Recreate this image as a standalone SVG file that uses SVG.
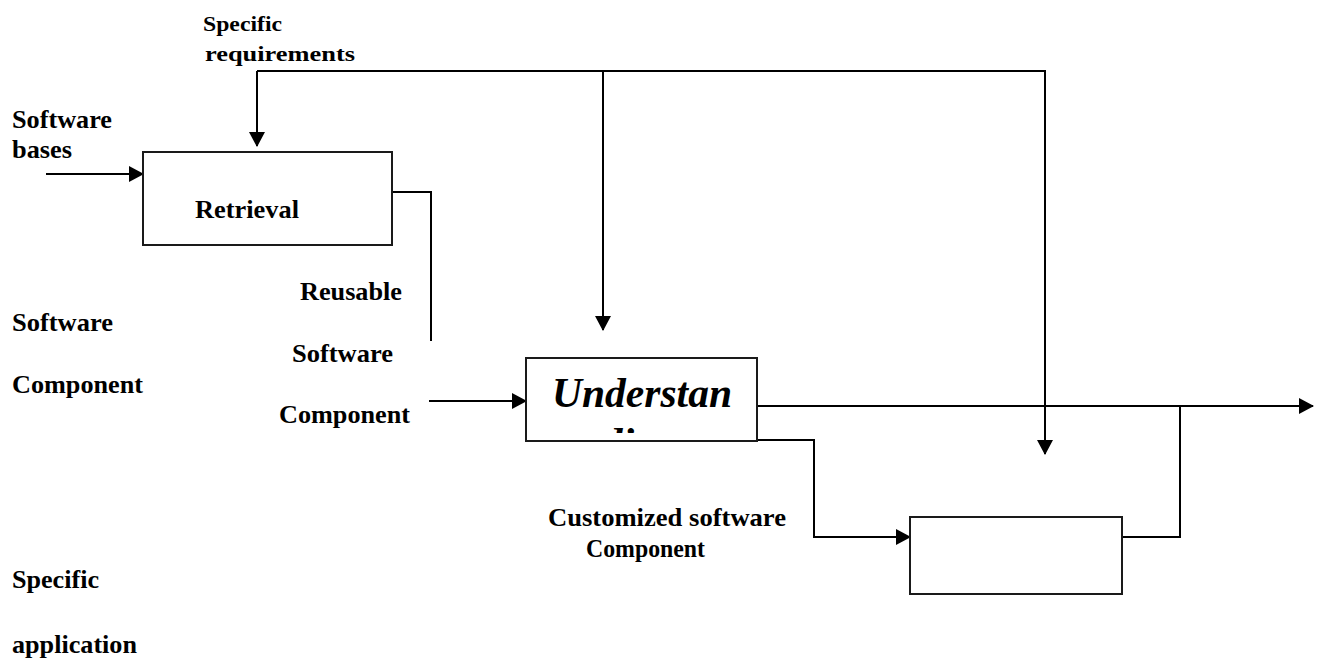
<svg xmlns="http://www.w3.org/2000/svg" width="1321" height="662" viewBox="0 0 1321 662">
  <style>
    .lbl { font-family: "Liberation Serif", "Times New Roman", serif; font-weight: bold; font-size: 25px; fill: #000; }
    .sm { font-size: 21px; }
    .box { fill: #fff; stroke: #1a1a1a; stroke-width: 2; }
    .wire { fill: none; stroke: #000; stroke-width: 2; }
    .arr { marker-end: url(#head); }
    .big { font-family: "Liberation Serif", "Times New Roman", serif; font-weight: bold; font-style: italic; font-size: 42px; fill: #000; }
  </style>
  <defs>
    <marker id="head" markerUnits="userSpaceOnUse" markerWidth="16" markerHeight="16" refX="14" refY="8" orient="auto">
      <path d="M0,0 L15,8 L0,16 z" fill="#000"/>
    </marker>
    <clipPath id="ucl">
      <rect x="527" y="359" width="229" height="74"/>
    </clipPath>
  </defs>
  <rect width="1321" height="662" fill="#fff"/>

  <!-- connectors -->
  <g id="connectors">
    <path class="wire arr" d="M46,174 H143"/>
    <path class="wire arr" d="M257,71 H1045 V454"/>
    <path class="wire arr" d="M257,71 V146"/>
    <path class="wire arr" d="M603,71 V330"/>
    <path class="wire" d="M392,192 H431 V341"/>
    <path class="wire arr" d="M429,401 H526"/>
    <path class="wire arr" d="M757,406 H1313"/>
    <path class="wire arr" d="M757,440 H814 V537 H910"/>
    <path class="wire" d="M1122,537 H1180 V406"/>
  </g>

  <!-- retrieval step -->
  <g id="retrieval">
    <rect class="box" x="143" y="152" width="249" height="93"/>
    <text class="lbl" x="195" y="218" textLength="104" lengthAdjust="spacingAndGlyphs">Retrieval</text>
  </g>

  <!-- understanding step -->
  <g id="understanding">
    <rect class="box" x="526" y="358" width="231" height="83"/>
    <g clip-path="url(#ucl)">
      <text class="big" x="642" y="407" text-anchor="middle" textLength="180" lengthAdjust="spacingAndGlyphs">Understan</text>
      <text class="big" x="640" y="457" text-anchor="middle">ding</text>
    </g>
  </g>

  <!-- adaptation step -->
  <g id="adaptation">
    <rect class="box" x="910" y="517" width="212" height="77"/>
  </g>

  <!-- labels -->
  <g id="labels">
    <text class="lbl sm" x="203" y="31" textLength="79" lengthAdjust="spacingAndGlyphs">Specific</text>
    <text class="lbl sm" x="205" y="61" textLength="150" lengthAdjust="spacingAndGlyphs">requirements</text>
    <text class="lbl" x="12" y="128" textLength="100" lengthAdjust="spacingAndGlyphs">Software</text>
    <text class="lbl" x="12" y="158" textLength="60" lengthAdjust="spacingAndGlyphs">bases</text>
    <text class="lbl" x="300" y="300" textLength="102" lengthAdjust="spacingAndGlyphs">Reusable</text>
    <text class="lbl" x="12" y="331" textLength="101" lengthAdjust="spacingAndGlyphs">Software</text>
    <text class="lbl" x="292" y="362" textLength="101" lengthAdjust="spacingAndGlyphs">Software</text>
    <text class="lbl" x="12" y="393" textLength="131" lengthAdjust="spacingAndGlyphs">Component</text>
    <text class="lbl" x="279" y="423" textLength="131" lengthAdjust="spacingAndGlyphs">Component</text>
    <text class="lbl" x="548" y="526" textLength="238" lengthAdjust="spacingAndGlyphs">Customized software</text>
    <text class="lbl" x="586" y="557" textLength="119" lengthAdjust="spacingAndGlyphs">Component</text>
    <text class="lbl" x="12" y="588" textLength="87" lengthAdjust="spacingAndGlyphs">Specific</text>
    <text class="lbl" x="12" y="653" textLength="125" lengthAdjust="spacingAndGlyphs">application</text>
  </g>
</svg>
